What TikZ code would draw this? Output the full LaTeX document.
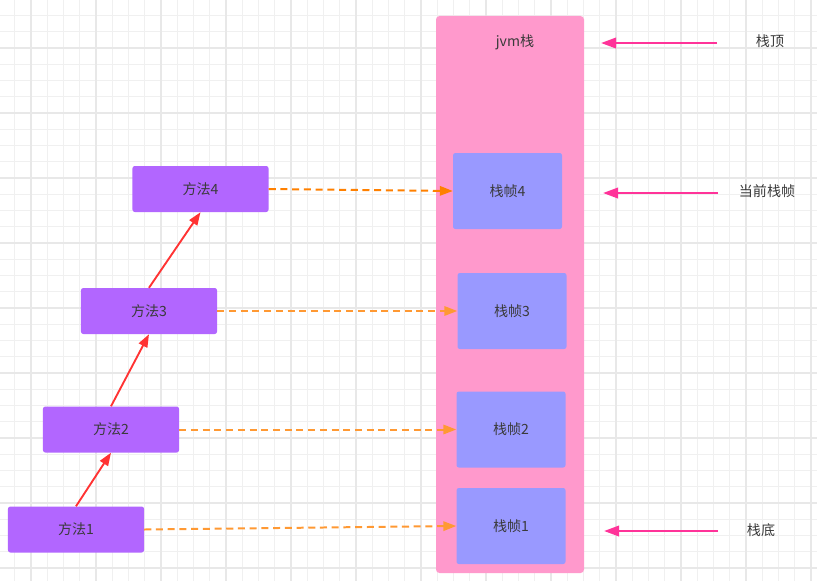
\documentclass[tikz,border=0pt]{standalone}
\usepackage{fontspec}
\setmainfont{Noto Sans CJK SC}
\usetikzlibrary{arrows.meta}

\definecolor{gridminor}{HTML}{F0F0F0}
\definecolor{gridmajor}{HTML}{E8E8E8}
\definecolor{stackpink}{HTML}{FF99CC}
\definecolor{framecol}{HTML}{9999FF}
\definecolor{methodcol}{HTML}{B266FF}
\definecolor{callred}{HTML}{FF3333}
\definecolor{pushorange}{HTML}{FF9933}
\definecolor{pushdark}{HTML}{FF8000}
\definecolor{markpink}{HTML}{FF3399}
\definecolor{textgray}{HTML}{3A3A3A}

\begin{document}
\begin{tikzpicture}[x=0.03cm, y=-0.03cm,
  every node/.style={font=\fontsize{12}{14}\selectfont, text=textgray},
  method/.style={rectangle, rounded corners=2pt, fill=methodcol, minimum width=4.08cm, minimum height=1.38cm},
  frame/.style={rectangle, rounded corners=2pt, fill=framecol, minimum width=3.27cm, minimum height=2.28cm},
  call/.style={draw=callred, line width=1.6pt, -{Triangle[length=11pt, width=8pt]}},
  push/.style={draw=pushorange, line width=1.7pt, dash pattern=on 6pt off 4pt, -{Triangle[length=11pt, width=8pt]}},
  pointer/.style={draw=markpink, line width=2pt, -{Triangle[length=13pt, width=9pt]}}]
  \useasboundingbox (0,0) rectangle (817,581);
  \fill[white] (0,0) rectangle (817,581);
  \foreach \i in {0,...,49} \draw[gridminor, line width=1pt] ({14.75+16.25*\i},0) -- ({14.75+16.25*\i},581);
  \foreach \j in {0,...,35} \draw[gridminor, line width=1pt] (0,{15.5+16.25*\j}) -- (817,{15.5+16.25*\j});
  \foreach \i in {0,...,12} \draw[gridmajor, line width=1.1pt] ({31+65*\i},0) -- ({31+65*\i},581);
  \foreach \j in {0,...,8} \draw[gridmajor, line width=1.1pt] (0,{48+65*\j}) -- (817,{48+65*\j});

  \node (JVM) [rectangle, rounded corners=3pt, fill=stackpink, minimum width=4.44cm, minimum height=16.71cm] at (510,294.5) {};
  \node (JVMLabel) at (515,42) {jvm栈};

  \node (Frame4) [frame] at (507.5,191) {栈帧4};
  \node (Frame3) [frame] at (512,311) {栈帧3};
  \node (Frame2) [frame] at (511,429.5) {栈帧2};
  \node (Frame1) [frame] at (511,526) {栈帧1};

  \node (Method4) [method] at (200.5,189) {方法4};
  \node (Method3) [method] at (149,311) {方法3};
  \node (Method2) [method] at (111,429.5) {方法2};
  \node (Method1) [method] at (76,529.5) {方法1};

  \node (Top) at (770,41) {栈顶};
  \node (Current) at (767,191) {当前栈帧};
  \node (Bottom) at (761,530) {栈底};
  \coordinate (TopTail) at (717,43);
  \coordinate (TopTip) at (601,43);
  \coordinate (CurrentTail) at (718,193);
  \coordinate (CurrentTip) at (603,193);
  \coordinate (BottomTail) at (718,531);
  \coordinate (BottomTip) at (604,531);

  \draw[call] (Method1.north) -- (Method2.south);
  \draw[call] (Method2.north) -- (Method3.south);
  \draw[call] (Method3.north) -- (Method4.south);

  \draw[push, draw=pushdark] (Method4.east) -- (Frame4.west);
  \draw[push] (Method3.east) -- (Frame3.west);
  \draw[push] (Method2.east) -- (Frame2.west);
  \draw[push] (Method1.east) -- (Frame1.west);

  \draw[pointer] (TopTail) -- (TopTip);
  \draw[pointer] (CurrentTail) -- (CurrentTip);
  \draw[pointer] (BottomTail) -- (BottomTip);
\end{tikzpicture}
\end{document}
